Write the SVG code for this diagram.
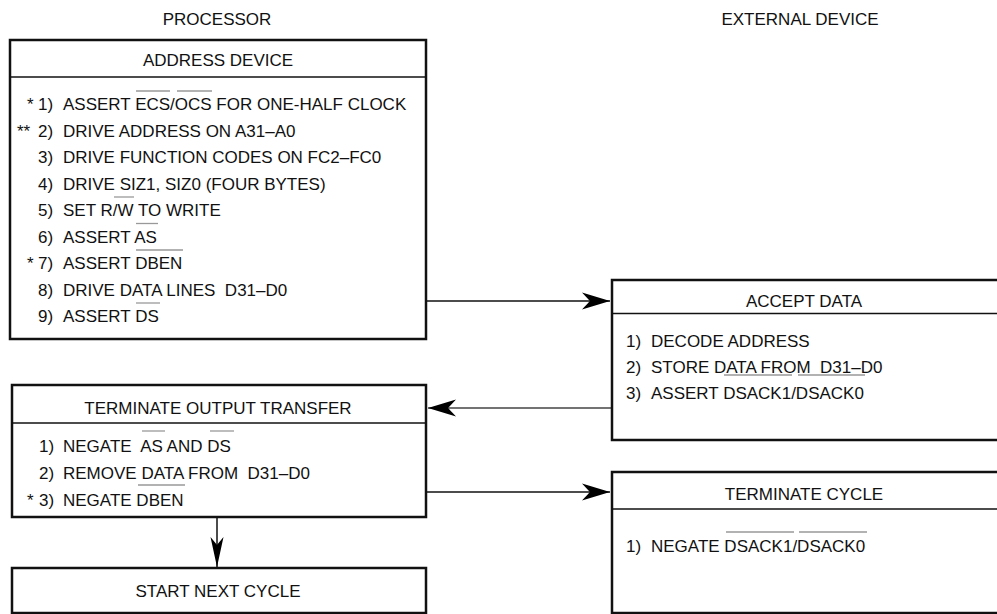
<svg xmlns="http://www.w3.org/2000/svg" width="997" height="614" viewBox="0 0 997 614">
<style>
  text { font-family: "Liberation Sans", Arial, sans-serif; font-size: 17px; fill: #111; white-space: pre; }
  .c { text-anchor: middle; }
  .box { fill: #fff; stroke: #111; stroke-width: 2.5; }
  .div { stroke: #111; stroke-width: 1.6; }
  .bar { stroke: #999; stroke-width: 1.3; }
  .wire { stroke: #111; stroke-width: 1.5; fill: none; }
  .wire.g { stroke: #444; }
</style>
<defs>
  <marker id="ah" markerUnits="userSpaceOnUse" markerWidth="30" markerHeight="20" viewBox="-29 -10 30 20" refX="0" refY="0" orient="auto">
    <path d="M0,0 L-28,-8.5 Q-22,-2 -20,0 Q-22,2 -28,8.5 Z" fill="#000"/>
  </marker>
  <marker id="ahn" markerUnits="userSpaceOnUse" markerWidth="32" markerHeight="16" viewBox="-31 -8 32 16" refX="0" refY="0" orient="auto">
    <path d="M0,0 L-30,-6.5 Q-24,-1.5 -22,0 Q-24,1.5 -30,6.5 Z" fill="#000"/>
  </marker>
</defs>

<text class="c" x="217" y="25">PROCESSOR</text>
<text class="c" x="800" y="25">EXTERNAL DEVICE</text>

<g id="connectors">
  <line class="wire" x1="427" y1="301" x2="610" y2="301" marker-end="url(#ah)"/>
  <line class="wire g" x1="611" y1="408" x2="428" y2="408" marker-end="url(#ah)"/>
  <line class="wire" x1="427" y1="492" x2="610" y2="492" marker-end="url(#ah)"/>
  <line class="wire" x1="217" y1="518" x2="217" y2="567" marker-end="url(#ahn)"/>
</g>

<g id="address-device">
  <rect class="box" x="10" y="40" width="416" height="299"/>
  <line class="div" x1="10" y1="77" x2="426" y2="77"/>
  <text class="c" x="218" y="66">ADDRESS DEVICE</text>
  <text y="110"><tspan x="27">*</tspan><tspan x="38">1)</tspan><tspan x="63">ASSERT ECS/OCS FOR ONE-HALF CLOCK</tspan></text>
  <text y="136.5"><tspan x="17">**</tspan><tspan x="38">2)</tspan><tspan x="63">DRIVE ADDRESS ON A31–A0</tspan></text>
  <text y="163"><tspan x="38">3)</tspan><tspan x="63">DRIVE FUNCTION CODES ON FC2–FC0</tspan></text>
  <text y="189.5"><tspan x="38">4)</tspan><tspan x="63">DRIVE SIZ1, SIZ0 (FOUR BYTES)</tspan></text>
  <text y="216"><tspan x="38">5)</tspan><tspan x="63">SET R/W TO WRITE</tspan></text>
  <text y="242.5"><tspan x="38">6)</tspan><tspan x="63">ASSERT AS</tspan></text>
  <text y="269"><tspan x="27">*</tspan><tspan x="38">7)</tspan><tspan x="63">ASSERT DBEN</tspan></text>
  <text y="295.5" xml:space="preserve"><tspan x="38">8)</tspan><tspan x="63">DRIVE DATA LINES  D31–D0</tspan></text>
  <text y="322"><tspan x="38">9)</tspan><tspan x="63">ASSERT DS</tspan></text>
  <line class="bar" x1="136" y1="91" x2="170" y2="91"/>
  <line class="bar" x1="177" y1="91" x2="212" y2="91"/>
  <line class="bar" x1="114" y1="197" x2="134" y2="197"/>
  <line class="bar" x1="136" y1="223.5" x2="158" y2="223.5"/>
  <line class="bar" x1="136" y1="250" x2="183" y2="250"/>
  <line class="bar" x1="136" y1="303" x2="160" y2="303"/>
</g>

<g id="accept-data">
  <rect class="box" x="612" y="280" width="392" height="160"/>
  <line class="div" x1="612" y1="313.5" x2="1004" y2="313.5"/>
  <text class="c" x="804" y="307">ACCEPT DATA</text>
  <text y="347"><tspan x="626">1)</tspan><tspan x="651">DECODE ADDRESS</tspan></text>
  <text y="372.5" xml:space="preserve"><tspan x="626">2)</tspan><tspan x="651">STORE DATA FROM  D31–D0</tspan></text>
  <text y="398.5"><tspan x="626">3)</tspan><tspan x="651">ASSERT DSACK1/DSACK0</tspan></text>
  <line class="bar" x1="724" y1="375" x2="792" y2="375"/>
  <line class="bar" x1="798" y1="375" x2="865" y2="375"/>
</g>

<g id="terminate-output-transfer">
  <rect class="box" x="12" y="385" width="414" height="132"/>
  <line class="div" x1="12" y1="423" x2="426" y2="423"/>
  <text class="c" x="218" y="414">TERMINATE OUTPUT TRANSFER</text>
  <text y="452" xml:space="preserve"><tspan x="39">1)</tspan><tspan x="63">NEGATE  AS AND DS</tspan></text>
  <text y="479" xml:space="preserve"><tspan x="39">2)</tspan><tspan x="63">REMOVE DATA FROM  D31–D0</tspan></text>
  <text y="506"><tspan x="27">*</tspan><tspan x="39">3)</tspan><tspan x="63">NEGATE DBEN</tspan></text>
  <line class="bar" x1="142" y1="431" x2="165" y2="431"/>
  <line class="bar" x1="210" y1="431" x2="234" y2="431"/>
  <line class="bar" x1="138" y1="485" x2="185" y2="485"/>
</g>

<g id="terminate-cycle">
  <rect class="box" x="612" y="472" width="392" height="141"/>
  <line class="div" x1="612" y1="509" x2="1004" y2="509"/>
  <text class="c" x="804" y="500">TERMINATE CYCLE</text>
  <text y="552"><tspan x="626">1)</tspan><tspan x="651">NEGATE DSACK1/DSACK0</tspan></text>
  <line class="bar" x1="726" y1="532" x2="794" y2="532"/>
  <line class="bar" x1="799" y1="532" x2="867" y2="532"/>
</g>

<g id="start-next-cycle">
  <rect class="box" x="12" y="568" width="414" height="45"/>
  <text class="c" x="218" y="597">START NEXT CYCLE</text>
</g>
</svg>
